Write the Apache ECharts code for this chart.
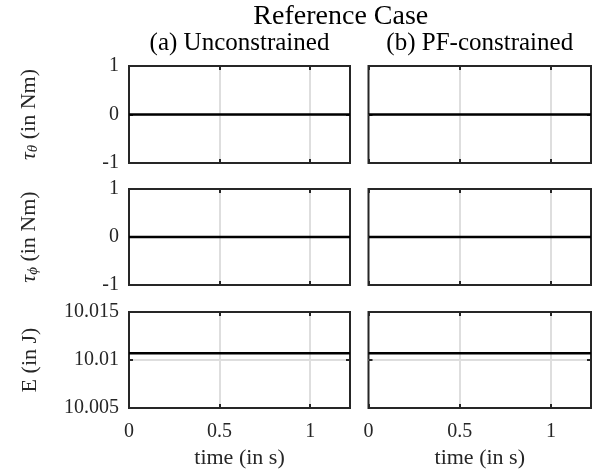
<!DOCTYPE html>
<html>
<head>
<meta charset="utf-8">
<script src="https://cdn.jsdelivr.net/npm/echarts@6/dist/echarts.min.js"></script>
<style>
html, body { margin: 0; padding: 0; background: #fff; }
#chart { width: 597px; height: 470px; }
</style>
</head>
<body>
<div id="chart"></div>
<script>
// time samples (s) and panel values
var timeS = [0, 1.22];
var tauThetaA = [0, 0];
var tauThetaB = [0, 0];
var tauPhiA = [0, 0];
var tauPhiB = [0, 0];
var energyA = [10.0107, 10.0107];
var energyB = [10.0107, 10.0107];

var xTicks = [0, 0.5, 1];
var tauTicks = [-1, 0, 1];
var energyTicks = [10.005, 10.01, 10.015];

var colTitles = ['(a) Unconstrained', '(b) PF-constrained'];
var rowNames = ['{i|τ}{s|θ}{n| (in Nm)}', '{i|τ}{s|ϕ}{n| (in Nm)}', '{n|E (in J)}'];
var mainTitle = 'Reference Case';

var FONT = 'Liberation Serif';
var AX = '#262626';
var GRIDC = '#dedede';

var panels = [
    [tauThetaA, tauThetaB],
    [tauPhiA, tauPhiB],
    [energyA, energyB]
];
var rowTicks = [tauTicks, tauTicks, energyTicks];

var rowTop = [66, 189, 312];
var rowH = [97, 96, 96];
var colLeft = [129, 368.5];
var colW = [221, 222.5];

var grids = [], xAxes = [], yAxes = [], series = [];

function tickFmt(list) {
    return function (v) {
        for (var k = 0; k < list.length; k++) {
            if (Math.abs(list[k] - v) < 1e-9) return String(list[k]);
        }
        return '';
    };
}

var tickStyle = { inside: true, length: 4, lineStyle: { color: AX, width: 2 } };
var noLine = { show: false, onZero: false };

for (var r = 0; r < 3; r++) {
    for (var c = 0; c < 2; c++) {
        var g = grids.length;
        var ticks = rowTicks[r];
        var yMin = ticks[0], yMax = ticks[ticks.length - 1];
        var yInt = r === 2 ? 0.005 : 1;
        grids.push({
            left: colLeft[c], top: rowTop[r], width: colW[c], height: rowH[r],
            show: true, borderColor: AX, borderWidth: 2, backgroundColor: '#fff'
        });
        // bottom x axis
        xAxes.push({
            gridIndex: g, type: 'value', position: 'bottom',
            min: 0, max: 1.22, interval: 0.5,
            axisLine: noLine,
            axisTick: tickStyle,
            axisLabel: {
                show: r === 2, formatter: tickFmt(xTicks),
                fontFamily: FONT, fontSize: 20, color: AX, margin: 14
            },
            splitLine: { show: true, showMinLine: false, showMaxLine: false, lineStyle: { color: GRIDC, width: 2 } },
            name: r === 2 ? 'time (in s)' : '',
            nameLocation: 'middle', nameGap: 39,
            nameTextStyle: { fontFamily: FONT, fontSize: 22, color: AX }
        });
        // top x axis, ticks only
        xAxes.push({
            gridIndex: g, type: 'value', position: 'top',
            min: 0, max: 1.22, interval: 0.5,
            axisLine: noLine, axisTick: tickStyle,
            axisLabel: { show: false }, splitLine: { show: false }
        });
        // left y axis
        yAxes.push({
            gridIndex: g, type: 'value', position: 'left',
            min: yMin, max: yMax, interval: yInt,
            axisLine: noLine,
            axisTick: tickStyle,
            axisLabel: {
                show: c === 0, formatter: tickFmt(ticks),
                fontFamily: FONT, fontSize: 20, color: AX, margin: 10
            },
            splitLine: { show: true, showMinLine: false, showMaxLine: false, lineStyle: { color: GRIDC, width: 2 } },
            name: c === 0 ? rowNames[r] : '',
            nameLocation: 'middle', nameGap: 88,
            nameTextStyle: {
                fontFamily: FONT, fontSize: 22, color: AX,
                rich: {
                    i: { fontFamily: FONT, fontSize: 22, fontStyle: 'italic', color: AX },
                    s: { fontFamily: FONT, fontSize: 15, fontStyle: 'italic', color: AX, verticalAlign: 'bottom', padding: [8, 0, 0, 0] },
                    n: { fontFamily: FONT, fontSize: 22, color: AX }
                }
            }
        });
        // right y axis, ticks only
        yAxes.push({
            gridIndex: g, type: 'value', position: 'right',
            min: yMin, max: yMax, interval: yInt,
            axisLine: noLine, axisTick: tickStyle,
            axisLabel: { show: false }, splitLine: { show: false }
        });
        var vals = panels[r][c];
        series.push({
            type: 'line', xAxisIndex: 2 * g, yAxisIndex: 2 * g,
            data: timeS.map(function (t, k) { return [t, vals[k]]; }),
            symbol: 'none', silent: true,
            lineStyle: { color: '#000', width: 2.5 }
        });
    }
}

var graphics = [{
    type: 'text', x: 340.8, y: 17,
    style: { text: mainTitle, fontFamily: FONT, fontSize: 28, fill: '#000', align: 'center', verticalAlign: 'middle' }
}];
for (var c2 = 0; c2 < 2; c2++) {
    graphics.push({
        type: 'text', x: colLeft[c2] + colW[c2] / 2, y: 43,
        style: { text: colTitles[c2], fontFamily: FONT, fontSize: 25, fill: '#000', align: 'center', verticalAlign: 'middle' }
    });
}

var chart = echarts.init(document.getElementById('chart'));
chart.setOption({
    animation: false,
    backgroundColor: '#fff',
    grid: grids,
    xAxis: xAxes,
    yAxis: yAxes,
    series: series,
    graphic: graphics
});
</script>
</body>
</html>
